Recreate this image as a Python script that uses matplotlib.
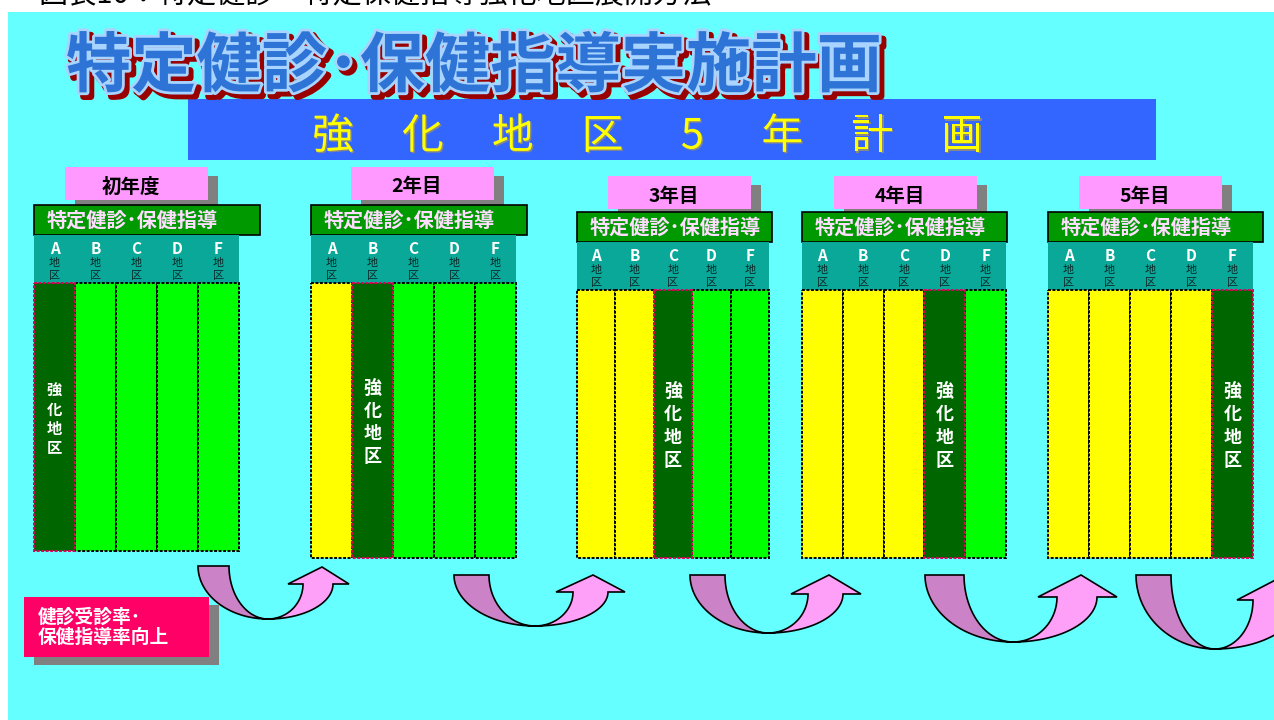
import numpy as np
import matplotlib.pyplot as plt
import matplotlib.patheffects as pe
from matplotlib.patches import Rectangle, Polygon

plt.rcParams['font.family'] = ['Noto Sans CJK JP', 'DejaVu Sans']

# data
caption = "図表10：特定健診・特定保健指導強化地区展開方法"
title = "特定健診･保健指導実施計画"
banner_chars = ["強", "化", "地", "区", "5", "年", "計", "画"]
years = ["初年度", "2年目", "3年目", "4年目", "5年目"]
districts = ["A", "B", "C", "D", "F"]
focus_idx = [0, 1, 2, 3, 4]          # strengthened district for each year
header_text = "特定健診･保健指導"
goal_lines = ["健診受診率･", "保健指導率向上"]

# colours
CYAN = "#66FFFF"
DONE = "#FFFF00"
TODO = "#00FF00"
FOCUS = "#006600"
TEAL = "#0AA898"

# layout (pixels)
block_x = [34, 311, 577, 802, 1048]
block_w = [205, 205, 192, 204, 205]
head_w = [226, 216, 195, 205, 215]
head_top = [205, 205, 212, 212, 212]
col_bottom = [551, 558, 558, 558, 558]
label_x = [65, 351, 608, 834, 1079]
label_top = [167, 167, 176, 176, 176]

fig = plt.figure(figsize=(12.74, 7.2), dpi=100)
ax = fig.add_axes([0, 0, 1, 1])
ax.set_xlim(0, 1274)
ax.set_ylim(720, 0)
ax.axis("off")

ax.add_patch(Rectangle((8, 12), 1266, 708, facecolor=CYAN, edgecolor="none"))
ax.text(38, -5, caption, fontsize=21, color="black", ha="left", va="center")

# big title
ax.text(66, 67, title, fontsize=47, weight="bold", color="#2E74D6", ha="left", va="center",
        path_effects=[pe.Stroke(linewidth=5, foreground="#990000", offset=(3, -3)),
                      pe.Stroke(linewidth=4, foreground="#A8D4FF"), pe.Normal()])

# banner
ax.add_patch(Rectangle((188, 99), 968, 61, facecolor="#3366FF", edgecolor="none"))
for x, ch in zip(np.linspace(333, 962, len(banner_chars)), banner_chars):
    ax.text(x, 137, ch, fontsize=30, color="#FFFF00", ha="center", va="center",
            path_effects=[pe.withSimplePatchShadow(offset=(1, -1), shadow_rgbFace="#888888", alpha=1)])

for b, year in enumerate(years):
    x0, w, ht = block_x[b], block_w[b], head_top[b]
    # year label with shadow
    lx, ly = label_x[b], label_top[b]
    ax.add_patch(Rectangle((lx + 10, ly + 9), 143, 33, facecolor="#808080", edgecolor="none"))
    ax.add_patch(Rectangle((lx, ly), 143, 33, facecolor="#FF99FF", edgecolor="none"))
    ax.text(lx + 66, ly + 20, year, fontsize=14, weight="bold", color="black", ha="center", va="center")
    # green header
    ax.add_patch(Rectangle((x0, ht), head_w[b], 30, facecolor="#009900", edgecolor="black", lw=1.2))
    ax.text(x0 + 13, ht + 15, header_text, fontsize=14.5, weight="bold", color="#FFDDFF",
            ha="left", va="center")
    # teal district header
    ax.add_patch(Rectangle((x0, ht + 30), w, 48, facecolor=TEAL, edgecolor="none"))
    cw = w / len(districts)
    top = ht + 78
    for i, d in enumerate(districts):
        cx = x0 + cw * (i + 0.5)
        ax.text(cx, ht + 44, d, fontsize=11, weight="bold", color="white", ha="center", va="center")
        ax.text(cx, ht + 58, "地", fontsize=8, color="#0A2A2A", ha="center", va="center")
        ax.text(cx, ht + 71, "区", fontsize=8, color="#0A2A2A", ha="center", va="center")
        if i < focus_idx[b]:
            fc, ec = DONE, "black"
        elif i == focus_idx[b]:
            fc, ec = FOCUS, "#E0005A"
        else:
            fc, ec = TODO, "black"
        ax.add_patch(Rectangle((x0 + cw * i, top), cw, col_bottom[b] - top, facecolor=fc,
                               edgecolor=ec, lw=1.4, ls=(0, (1.5, 0.8)),
                               zorder=2 if ec == "black" else 3))
        if i == focus_idx[b]:
            ax.text(cx, (top + col_bottom[b]) / 2 + 2, "\n".join("強化地区"),
                    fontsize=11 if b == 0 else 13, weight="bold",
                    color="white", ha="center", va="center", linespacing=1.25, zorder=4)


def u_arrow(tail_l, tail_r, top, meet_x, bottom, head_y, shaft_in, shaft_out, head_l, head_r, tip_x, tip_y):
    t = np.linspace(np.pi, np.pi / 2, 40)
    outer = np.c_[meet_x + (meet_x - tail_l) * np.cos(t), top + (bottom - top) * np.sin(t)]
    inner = np.c_[meet_x + (meet_x - tail_r) * np.cos(t), top + (bottom - top) * np.sin(t)][::-1]
    ax.add_patch(Polygon(np.r_[outer, inner], closed=True, facecolor="#CC82C6",
                         edgecolor="black", lw=1.2, zorder=5))
    s = np.linspace(np.pi / 2, 0, 40)
    ry = bottom - head_y
    outer = np.c_[meet_x + (shaft_out - meet_x) * np.cos(s), head_y + ry * np.sin(s)]
    inner = np.c_[meet_x + (shaft_in - meet_x) * np.cos(s), head_y + ry * np.sin(s)][::-1]
    head = np.array([[head_r, head_y], [tip_x, tip_y], [head_l, head_y]])
    ax.add_patch(Polygon(np.r_[outer, head, inner], closed=True, facecolor="#FFA0F8",
                         edgecolor="black", lw=1.2, zorder=6))


u_arrow(198, 229, 566, 268, 619, 584, 303, 333, 288, 349, 322, 567)
u_arrow(454, 489, 575, 535, 626, 592, 573, 608, 556, 625, 593, 575)
u_arrow(690, 725, 575, 768, 633, 594, 808, 843, 791, 861, 829, 575)
u_arrow(925, 964, 575, 1013, 642, 597, 1057, 1097, 1038, 1117, 1081, 575)
u_arrow(1136, 1171, 575, 1215, 649, 600, 1253, 1300, 1237, 1322, 1285, 575)

# goal box
ax.add_patch(Rectangle((34, 605), 185, 60, facecolor="#808080", edgecolor="none", zorder=7))
ax.add_patch(Rectangle((24, 597), 185, 60, facecolor="#FF0066", edgecolor="none", zorder=8))
ax.text(38, 617, goal_lines[0], fontsize=13.5, weight="bold", color="white", ha="left", va="center", zorder=9)
ax.text(38, 637, goal_lines[1], fontsize=13.5, weight="bold", color="white", ha="left", va="center", zorder=9)

fig.savefig("out.png", dpi=100)
